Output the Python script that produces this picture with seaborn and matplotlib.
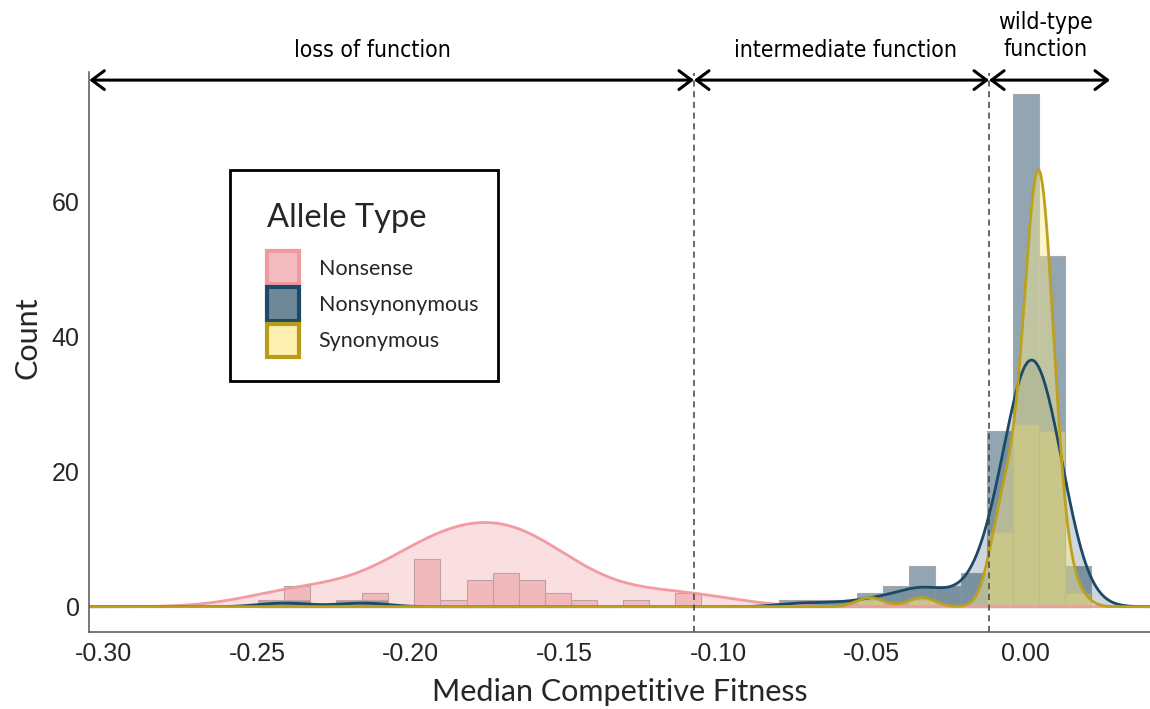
import numpy as np
import pandas as pd
import matplotlib
matplotlib.use("Agg")
import matplotlib.pyplot as plt
from matplotlib.patches import Patch, Rectangle
from matplotlib import font_manager
import seaborn as sns

# ---------------- data ----------------
bin_start = -0.2497
bin_width = 0.008476
n_bins = 32

nonsense_fitness = [-0.2370, -0.2116, -0.1946, -0.1861, -0.1777, -0.1692,
                    -0.1607, -0.1522, -0.1438, -0.1268, -0.1099]
nonsense_count = [3, 2, 7, 1, 4, 5, 4, 2, 1, 1, 2]

nonsyn_fitness = [-0.2455, -0.2370, -0.2200, -0.2116, -0.0760, -0.0675,
                  -0.0590, -0.0505, -0.0421, -0.0336, -0.0251, -0.0166,
                  -0.0082, 0.0003, 0.0088, 0.0172]
nonsyn_count = [1, 1, 1, 1, 1, 1, 1, 2, 3, 6, 3, 5, 26, 76, 52, 6]

syn_fitness = [-0.0505, -0.0336, -0.0068, 0.0025, 0.0065, 0.0150]
syn_count = [1, 1, 11, 27, 26, 2]

allele_types = ["Nonsense", "Nonsynonymous", "Synonymous"]
thresholds = [-0.1078, -0.0117]
region_labels = ["loss of function", "intermediate function", "wild-type\nfunction"]
x_ticks = [-0.30, -0.25, -0.20, -0.15, -0.10, -0.05, 0.00]
y_ticks = [0, 20, 40, 60]

# ---------------- styling ----------------
bar_color = {"Nonsense": "#E8959B", "Nonsynonymous": "#274D67", "Synonymous": "#F7E070"}
fill_color = {"Nonsense": "#F0969C", "Nonsynonymous": "#274D67", "Synonymous": "#FCEB8C"}
fill_alpha = {"Nonsense": 0.30, "Nonsynonymous": 0.22, "Synonymous": 0.45}
line_color = {"Nonsense": "#F29BA1", "Nonsynonymous": "#1B4A66", "Synonymous": "#BDA11C"}
bw_adjust = {"Nonsense": 1.1, "Nonsynonymous": 0.52, "Synonymous": 1.1}
legend_face = {"Nonsense": "#F4BCC0", "Nonsynonymous": "#6E8898", "Synonymous": "#FCEFB0"}
legend_edge = {"Nonsense": "#F09A9F", "Nonsynonymous": "#1B4B66", "Synonymous": "#B99B1A"}

sns.set_theme(style="white")
names = {f.name for f in font_manager.fontManager.ttflist}
narrow_family = "Liberation Sans Narrow" if "Liberation Sans Narrow" in names else "DejaVu Sans"
narrow_stretch = "normal" if narrow_family == "Liberation Sans Narrow" else "condensed"
plt.rcParams["font.family"] = ["Liberation Sans", "DejaVu Sans"]
plt.rcParams["axes.unicode_minus"] = False

df = pd.concat([
    pd.DataFrame({"fitness": np.repeat(nonsense_fitness, nonsense_count), "allele": "Nonsense"}),
    pd.DataFrame({"fitness": np.repeat(nonsyn_fitness, nonsyn_count), "allele": "Nonsynonymous"}),
    pd.DataFrame({"fitness": np.repeat(syn_fitness, syn_count), "allele": "Synonymous"}),
], ignore_index=True)

bin_edges = bin_start + bin_width * np.arange(n_bins + 1)
xmin, xmax = -0.30475, 0.04072
ymin, ymax = -3.75, 79.2
W, H = 1150, 709

fig = plt.figure(figsize=(W / 100, H / 100), dpi=100)
ax = fig.add_axes([89.3 / W, 1 - 632 / H, 1 - 89.3 / W, (632 - 72) / H])

for name in allele_types:
    sub = df[df["allele"] == name]
    sns.histplot(data=sub, x="fitness", bins=bin_edges, color=bar_color[name], alpha=0.5,
                 edgecolor="#A8A8A8", linewidth=0.8, ax=ax)

for name in allele_types:
    sub = df[df["allele"] == name]
    sns.kdeplot(data=sub, x="fitness", bw_adjust=bw_adjust[name], cut=200, clip=(xmin, xmax),
                gridsize=3000, fill=True, color=fill_color[name], alpha=fill_alpha[name],
                linewidth=0, ax=ax)
    sns.kdeplot(data=sub, x="fitness", bw_adjust=bw_adjust[name], cut=200, clip=(xmin, xmax),
                gridsize=3000, fill=False, color=line_color[name], linewidth=2.0, ax=ax)

ax.set_xlim(xmin, xmax)
ax.set_ylim(ymin, ymax)

# threshold lines and region arrows
arrow_y = 78.0
for t in thresholds:
    ax.vlines(t, ymin, 79.0, colors="#404040", linestyles=(0, (4, 3)), linewidth=1.1)
bounds = [xmin] + thresholds + [0.0277]
for i in range(3):
    ax.annotate("", xy=(bounds[i + 1], arrow_y), xytext=(bounds[i], arrow_y),
                arrowprops=dict(arrowstyle="<->,head_length=0.6,head_width=0.45",
                                lw=2.2, color="black", shrinkA=0, shrinkB=0,
                                mutation_scale=15),
                annotation_clip=False)
label_x = [-0.2124, -0.0586, 0.0068]
label_y = [82.4, 82.4, 84.5]
for lx, ly, txt in zip(label_x, label_y, region_labels):
    ax.text(lx, ly, txt, ha="center", va="center", fontsize=16.5, family=narrow_family,
            stretch=narrow_stretch, color="black", linespacing=1.2, clip_on=False)

# axes styling
ax.set_xticks(x_ticks)
ax.set_xticklabels([f"{v:.2f}" for v in x_ticks])
ax.set_yticks(y_ticks)
ax.tick_params(axis="both", length=0, labelsize=18, labelcolor="#262626", pad=7)
for s in ["top", "right"]:
    ax.spines[s].set_visible(False)
for s in ["left", "bottom"]:
    ax.spines[s].set_color("#555555")
    ax.spines[s].set_linewidth(1.1)
ax.set_xlabel("Median Competitive Fitness", fontsize=22, family="Lato", labelpad=9)
ax.set_ylabel("Count", fontsize=22, family="Lato")
ax.yaxis.set_label_coords((41 - 89.3) / (W - 89.3), (632 - 338) / 560)

# legend (frame drawn as a separate box to match the reference padding)
handles = [Patch(facecolor=legend_face[n], edgecolor=legend_edge[n], linewidth=3) for n in allele_types]
leg = ax.legend(handles, allele_types, title="Allele Type", loc="upper left",
                bbox_to_anchor=(267 / W, 1 - 203 / H), bbox_transform=fig.transFigure,
                frameon=False, prop={"family": "Lato", "size": 15.5},
                title_fontproperties={"family": "Lato", "size": 23.5},
                borderpad=0, borderaxespad=0, labelspacing=0.14, handlelength=1.5,
                handleheight=2.0, handletextpad=0.9, alignment="left")
leg._legend_box.sep = 13
fig.patches.append(Rectangle((230 / W, 1 - 381 / H), (498 - 230) / W, (381 - 170) / H,
                             transform=fig.transFigure, fill=False, edgecolor="black",
                             linewidth=2, zorder=5))

fig.savefig("out.png", dpi=100)
